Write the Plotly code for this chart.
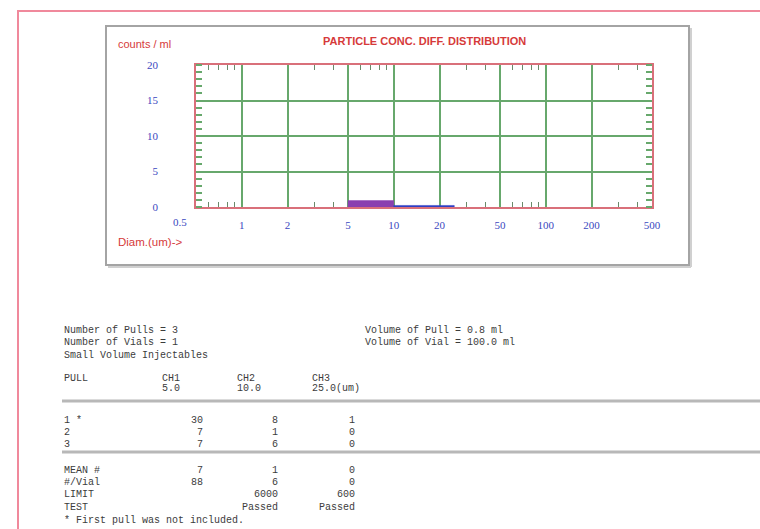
import numpy as np
import plotly.graph_objects as go

# ---- distribution data (counts / ml per size bin) ----
bin_low = [5, 10]
bin_high = [10, 25]
bin_conc = [0.9, 0.22]
bin_colors = ["#8a3fb0", "#2f3fc4"]

x_tick_vals = [1, 2, 5, 10, 20, 50, 100, 200, 500]
x_tick_text = ["1", "2", "5", "10", "20", "50", "100", "200", "500"]
x_minor_vals = [0.6, 0.7, 0.8, 0.9, 3, 4, 6, 7, 8, 9, 30, 40, 60, 70, 80, 90, 300, 400]
y_tick_vals = [0, 5, 10, 15, 20]

# ---- report table ----
info_left = ["Number of Pulls = 3", "Number of Vials = 1", "Small Volume Injectables"]
info_right = ["Volume of Pull = 0.8 ml", "Volume of Vial = 100.0 ml"]
channels = ["CH1", "CH2", "CH3"]
channel_sizes = ["5.0", "10.0", "25.0(um)"]
pull_labels = ["1 *", "2", "3"]
pull_counts = [["30", "8", "1"], ["7", "1", "0"], ["7", "6", "0"]]
summary_labels = ["MEAN #", "#/Vial", "LIMIT", "TEST"]
summary_values = [["7", "1", "0"], ["88", "6", "0"], ["", "6000", "600"], ["", "Passed", "Passed"]]
footnote = "* First pull was not included."

# plot-area placement in pixels
W, H = 760, 529
L, R, T, B = 196, 652, 65, 207


def fx(px):
    return (px - L) / (R - L)


def fy(py):
    return (B - py) / (B - T)


RED = "#d63a3a"
BLUE = "#3a48c0"
GREEN = "#67a86c"
TXT = "#3c3c3c"
MONO = "Liberation Mono"

fig = go.Figure()
for lo, hi, c, col in zip(bin_low, bin_high, bin_conc, bin_colors):
    fig.add_trace(go.Scatter(
        x=[lo, lo, hi, hi, lo], y=[0, c, c, 0, 0],
        mode="lines", fill="toself", fillcolor=col,
        line=dict(width=0.5, color=col), hoverinfo="skip"))

annotations = []
# chart titles
annotations.append(dict(text="<b>PARTICLE CONC. DIFF. DISTRIBUTION</b>", x=fx(424), y=fy(41),
                        xanchor="center", yanchor="middle",
                        font=dict(family="Liberation Sans", size=11, color=RED)))
annotations.append(dict(text="counts / ml", x=fx(116), y=fy(44), xanchor="left", yanchor="middle",
                        font=dict(family="Liberation Sans", size=11, color=RED)))
annotations.append(dict(text="Diam.(um)->", x=fx(116), y=fy(242), xanchor="left", yanchor="middle",
                        font=dict(family="Liberation Sans", size=11.5, color=RED)))
# lower-end size label sits left of the axis corner
annotations.append(dict(text="0.5", x=np.log10(0.5), xref="x", y=fy(222), yref="paper",
                        xshift=-16, showarrow=False, xanchor="center", yanchor="middle",
                        font=dict(family="Liberation Serif", size=11, color=BLUE)))


def txt(s, px, py, anchor="left"):
    annotations.append(dict(text=s, x=fx(px), y=fy(py), xanchor=anchor, yanchor="middle",
                            font=dict(family=MONO, size=10, color=TXT)))


for i, s in enumerate(info_left):
    txt(s, 62, 330 + i * 12.5)
for i, s in enumerate(info_right):
    txt(s, 363, 330 + i * 12.5)

col_left = [160, 235, 310]
col_right = [205, 280, 357]
txt("PULL", 62, 378)
for cx, ch, sz in zip(col_left, channels, channel_sizes):
    txt(ch, cx, 378)
    txt(sz, cx, 388)

for r, (lab, vals) in enumerate(zip(pull_labels, pull_counts)):
    y = 420 + r * 12.2
    txt(lab, 62, y)
    for cx, v in zip(col_right, vals):
        txt(v, cx, y, "right")

for r, (lab, vals) in enumerate(zip(summary_labels, summary_values)):
    y = 470 + r * 12.4
    txt(lab, 62, y)
    for cx, v in zip(col_right, vals):
        if v:
            txt(v, cx, y, "right")
txt(footnote, 62, 520)

for a in annotations:
    a.setdefault("xref", "paper")
    a.setdefault("yref", "paper")
    a["showarrow"] = False

shapes = [
    # outer page border
    dict(type="rect", xref="paper", yref="paper", x0=fx(18), x1=fx(800), y0=fy(600), y1=fy(11),
         line=dict(color="#f0899c", width=2)),
    # chart frame with soft shadow
    dict(type="line", xref="paper", yref="paper", x0=fx(108), x1=fx(691), y0=fy(267), y1=fy(267),
         line=dict(color="#d0d0d0", width=2)),
    dict(type="line", xref="paper", yref="paper", x0=fx(691), x1=fx(691), y0=fy(28), y1=fy(267),
         line=dict(color="#d0d0d0", width=2)),
    dict(type="rect", xref="paper", yref="paper", x0=fx(106), x1=fx(689), y0=fy(265), y1=fy(26),
         line=dict(color="#a4a4a4", width=2)),
    # table rules
    dict(type="line", xref="paper", yref="paper", x0=fx(62), x1=fx(800), y0=fy(401), y1=fy(401),
         line=dict(color="#b8b8b8", width=3)),
    dict(type="line", xref="paper", yref="paper", x0=fx(62), x1=fx(800), y0=fy(452), y1=fy(452),
         line=dict(color="#b8b8b8", width=3)),
]

fig.update_layout(
    width=W, height=H,
    margin=dict(l=L, r=W - R, t=T, b=H - B),
    paper_bgcolor="white", plot_bgcolor="white",
    showlegend=False,
    annotations=annotations,
    shapes=shapes,
    xaxis=dict(
        type="log", range=[np.log10(0.5), np.log10(500)],
        tickvals=x_tick_vals, ticktext=x_tick_text, ticks="",
        tickfont=dict(family="Liberation Serif", size=11, color=BLUE),
        ticklabelstandoff=7,
        showgrid=True, gridcolor=GREEN, gridwidth=1.5, zeroline=False,
        showline=True, linecolor="#d9707a", linewidth=1.5, mirror="ticks",
        layer="below traces",
        minor=dict(tickvals=x_minor_vals, ticks="inside", ticklen=5, tickwidth=1,
                   tickcolor="#6a8a6a", showgrid=False),
        fixedrange=True,
    ),
    yaxis=dict(
        range=[0, 20], tickvals=y_tick_vals, ticks="",
        tickfont=dict(family="Liberation Serif", size=11, color=BLUE),
        ticklabelstandoff=34,
        showgrid=True, gridcolor=GREEN, gridwidth=1.5, zeroline=False,
        showline=True, linecolor="#d9707a", linewidth=1.5, mirror="ticks",
        layer="below traces",
        minor=dict(dtick=1, ticks="inside", ticklen=6, tickwidth=1.5,
                   tickcolor=GREEN, showgrid=False),
        fixedrange=True,
    ),
)

fig.write_html("out.html")
